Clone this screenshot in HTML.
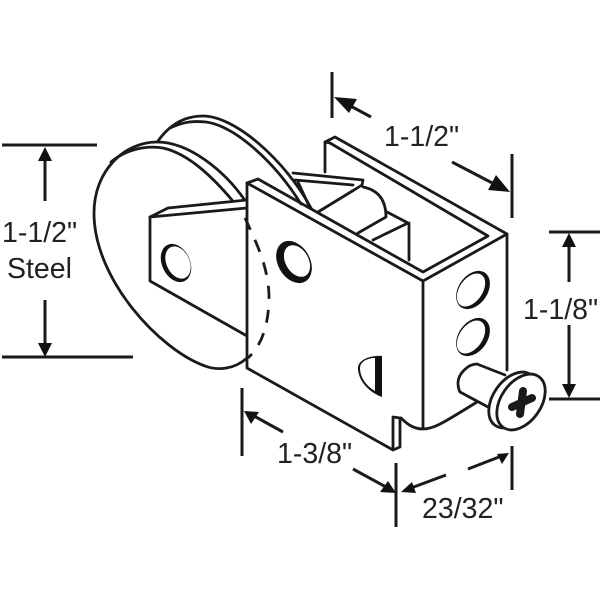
<!DOCTYPE html>
<html><head><meta charset="utf-8"><style>html,body{margin:0;padding:0;background:#fff}svg{display:block}text{font-family:"Liberation Sans",sans-serif;font-size:28.5px;fill:#222}</style></head><body>
<svg width="600" height="600" viewBox="0 0 600 600">
<g fill="none" stroke="#1a1a1a" stroke-width="2.8" stroke-linejoin="round" stroke-linecap="round">
<!-- back wheel -->
<path d="M158,141 C170,124 185,116 203,116 C235,116 285,160 311,208"/>
<path d="M170,128 C185,121 195,121 206,122 C235,126 275,162 301,204"/>
<!-- front wheel -->
<path d="M247,358 C235,369 218,371 205,366 C160,350 94,280 94,213 C94,170 125,142 157,142 C190,142 225,172 244,199"/>
<path d="M111,162 C125,150 145,145 163,148 C190,154 215,180 232,200"/>
<path d="M245,218 C255,240 268,265 269,295 C269,325 262,345 248,358" stroke-dasharray="13 11" stroke-linecap="butt"/>
<!-- left bracket -->
<path d="M247,208 L150,217 L150,281 L247,336"/>
<path d="M150,217 L168,208 L247,200"/>
<!-- back flange -->
<path d="M325,172 V142 L335,137 L507,234 L423,281"/>
<path d="M325,142 L330,143 L488,236 L423,272 L258,179 L247,183 L247,368 L393,450 L400,447 V418 L393,417 V450"/>
<path d="M247,183 L423,281 V428 M507,234 V370"/>
<path d="M401,418 C405,422 412,429 423,429 C433,429 440,425 477,402"/>
<!-- roller -->
<path d="M293,173 L363,180 L362,185 L354,190 M295,180 L353,185 M318,212 L354,190 M363,187 C378,190 386,200 386,217 L358,233 M387,212 L408,223 L373,240 M409,223 V260"/>
<path d="M298,182 L310,208"/>
<!-- screw -->
<path d="M477,364 C468,364 458,374 458,383 C458,388 459,390 460,392 L488,407 M477,364 L505,375" fill="#fff"/>
<ellipse cx="513" cy="400" rx="20" ry="31" transform="rotate(35 513 400)" fill="#fff"/>
<ellipse cx="521" cy="402" rx="20" ry="31" transform="rotate(35 521 402)" fill="#fff"/>
<!-- dims -->
<g stroke-width="3" stroke-linecap="butt">
<path d="M2,145 H97 M2,357 H133 M45,155 V201 M45,300 V350 M549,232 H600 M549,399 H600 M569,240 V282 M569,325 V390 M332,72 V118 M345,103 L371,117 M512,154 V218 M452,162 L500,187 M242,388 V456 M254,416 L283,432 M353,469 L386,487 M396,463 V527 M411,488 L446,475 M468,469 L499,457 M512,446 V490"/>
</g>
<path d="M523,391 L520,414 M512,407 L532,398" stroke-width="8"/>
</g>
<g fill="#111" stroke="none">
<path d="M45,147 L38,161 H52Z M45,357 L38,343 H52Z M569,233 L562,247 H576Z M569,398 L562,384 H576Z M334,97 L357,99 L349,113Z M510,192 L488,190 L496,175Z M244,411 L259,412 L251,424Z M396,493 L380,492 L388,481Z M401,492 L412,482 L416,493Z M509,453 L497,454 L502,464Z"/>
<!-- holes -->
<ellipse cx="176" cy="263" rx="14" ry="20" transform="rotate(-25 176 263)"/>
<ellipse cx="178" cy="262.500" rx="11.500" ry="17" transform="rotate(-25 178 262.500)" fill="#fff"/>
<ellipse cx="294" cy="262" rx="16" ry="22.500" transform="rotate(-30 294 262)"/>
<ellipse cx="297" cy="261" rx="11.500" ry="17" transform="rotate(-30 297 261)" fill="#fff"/>
<ellipse cx="473" cy="290" rx="14.500" ry="21" transform="rotate(35 473 290)"/>
<ellipse cx="471" cy="290" rx="11.500" ry="18.500" transform="rotate(35 471 290)" fill="#fff"/>
<ellipse cx="473" cy="337" rx="14.500" ry="21" transform="rotate(35 473 337)"/>
<ellipse cx="471" cy="337" rx="11.500" ry="18.500" transform="rotate(35 471 337)" fill="#fff"/>
<path d="M382,356 V397 C368,392 358,380 358,368 C358,360 370,355 382,356Z"/>
<path d="M375,358 V391 C366,386 360,377 360,368 C360,362 367,358 375,358Z" fill="#fff"/>
</g>
<text x="2" y="242">1-1/2"</text><text x="7" y="278">Steel</text>
<text x="384" y="146">1-1/2"</text><text x="523" y="319">1-1/8"</text>
<text x="277" y="463">1-3/8"</text><text x="422" y="518">23/32"</text>
</svg></body></html>
